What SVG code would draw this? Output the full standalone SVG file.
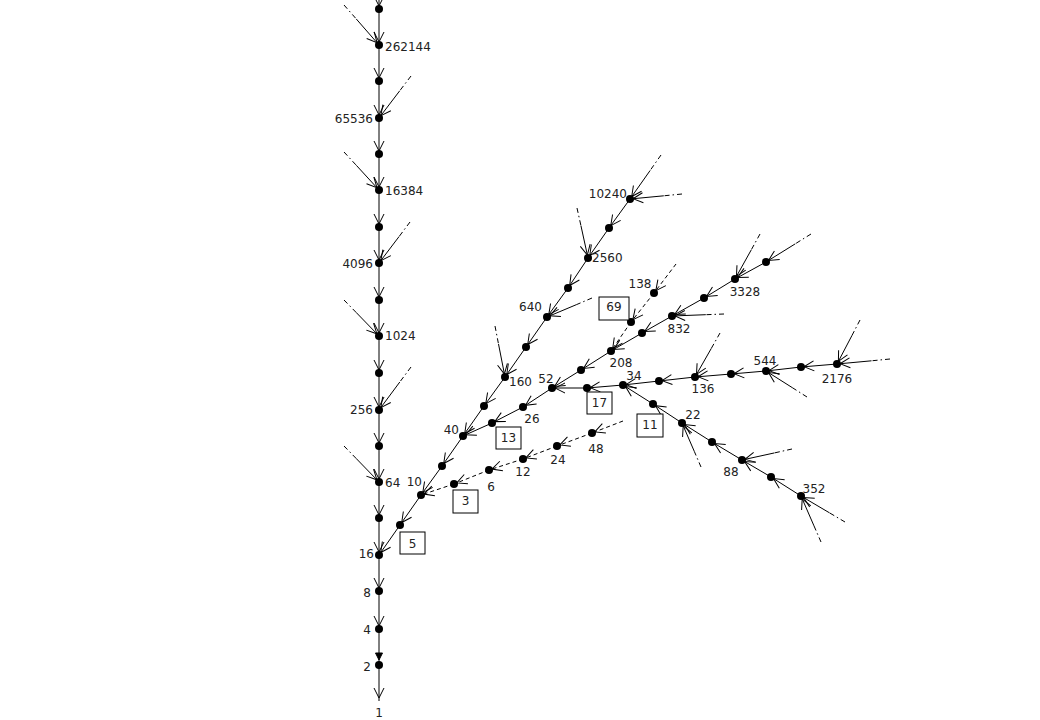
<svg xmlns="http://www.w3.org/2000/svg" width="1040" height="720" viewBox="0 0 1040 720">
<style>
.e{stroke:#000;stroke-width:1;fill:none;marker-end:url(#a)}
.d{stroke:#000;stroke-width:1;fill:none;stroke-dasharray:4 2.5}
.dd{stroke:#000;stroke-width:1;fill:none;stroke-dasharray:5 3 1.5 3}
.ds{stroke:#000;stroke-width:1;fill:none;stroke-dasharray:4 3;marker-end:url(#a)}
circle{fill:#000}
text{font-family:"DejaVu Sans","Liberation Sans",sans-serif;font-size:12px;fill:#222}
.m{text-anchor:middle}.r{text-anchor:end}
.box{fill:#fff;stroke:#000;stroke-width:1}
</style>
<defs>
<marker id="a" markerUnits="userSpaceOnUse" markerWidth="20" markerHeight="16" viewBox="-16 -8 20 16" refX="0" refY="0" orient="auto"><path d="M-13,-5 L-3,0 L-13,5" fill="none" stroke="#000" stroke-width="1"/></marker>
<marker id="f" markerUnits="userSpaceOnUse" markerWidth="20" markerHeight="16" viewBox="-16 -8 20 16" refX="0" refY="0" orient="auto"><path d="M-12,-3.5 L-5,0 L-12,3.5 Z" fill="#000" stroke="#000" stroke-width="1"/></marker>
</defs>
<rect width="1040" height="720" fill="#fff"/>
<g id="connectors">
<!-- spine -->
<line class="e" x1="379" y1="-20" x2="379" y2="9"/>
<line class="e" x1="379" y1="9" x2="379" y2="45"/>
<line class="e" x1="379" y1="45" x2="379" y2="81"/>
<line class="e" x1="379" y1="81" x2="379" y2="118"/>
<line class="e" x1="379" y1="118" x2="379" y2="154"/>
<line class="e" x1="379" y1="154" x2="379" y2="190"/>
<line class="e" x1="379" y1="190" x2="379" y2="227"/>
<line class="e" x1="379" y1="227" x2="379" y2="263"/>
<line class="e" x1="379" y1="263" x2="379" y2="300"/>
<line class="e" x1="379" y1="300" x2="379" y2="336"/>
<line class="e" x1="379" y1="336" x2="379" y2="373"/>
<line class="e" x1="379" y1="373" x2="379" y2="410"/>
<line class="e" x1="379" y1="410" x2="379" y2="446"/>
<line class="e" x1="379" y1="446" x2="379" y2="482"/>
<line class="e" x1="379" y1="482" x2="379" y2="518"/>
<line class="e" x1="379" y1="518" x2="379" y2="555"/>
<line class="e" x1="379" y1="555" x2="379" y2="591"/>
<line class="e" x1="379" y1="591" x2="379" y2="629"/>
<line style="stroke:#000;marker-end:url(#f)" x1="379" y1="629" x2="379" y2="665"/>
<line class="e" x1="379" y1="665" x2="379" y2="701"/>
<!-- spine side branches -->
<line class="dd" x1="344" y1="5" x2="356.3" y2="19"/><line class="e" x1="356.3" y1="19" x2="379" y2="45"/>
<line class="dd" x1="411" y1="76" x2="399.8" y2="90.7"/><line class="e" x1="399.8" y1="90.7" x2="379" y2="118"/>
<line class="dd" x1="344" y1="152" x2="356.3" y2="165.3"/><line class="e" x1="356.3" y1="165.3" x2="379" y2="190"/>
<line class="dd" x1="410" y1="222" x2="399.2" y2="236.4"/><line class="e" x1="399.2" y1="236.4" x2="379" y2="263"/>
<line class="dd" x1="344" y1="300" x2="356.3" y2="312.6"/><line class="e" x1="356.3" y1="312.6" x2="379" y2="336"/>
<line class="dd" x1="411" y1="367" x2="399.8" y2="382"/><line class="e" x1="399.8" y1="382" x2="379" y2="410"/>
<line class="dd" x1="344" y1="446" x2="356.3" y2="458.6"/><line class="e" x1="356.3" y1="458.6" x2="379" y2="482"/>
<!-- 5 branch -->
<line class="dd" x1="661" y1="155" x2="650.2" y2="170.4"/><line class="e" x1="650.2" y1="170.4" x2="630" y2="199"/>
<line class="e" x1="630" y1="199" x2="609" y2="228"/>
<line class="e" x1="609" y1="228" x2="588" y2="258"/>
<line class="e" x1="588" y1="258" x2="568" y2="288"/>
<line class="e" x1="568" y1="288" x2="547" y2="317"/>
<line class="e" x1="547" y1="317" x2="526" y2="347"/>
<line class="e" x1="526" y1="347" x2="505" y2="377"/>
<line class="e" x1="505" y1="377" x2="484" y2="406"/>
<line class="e" x1="484" y1="406" x2="463" y2="436"/>
<line class="e" x1="463" y1="436" x2="442" y2="466"/>
<line class="e" x1="442" y1="466" x2="421" y2="495"/>
<line class="e" x1="421" y1="495" x2="400" y2="525"/>
<line class="e" x1="400" y1="525" x2="379" y2="555"/>
<line class="dd" x1="682" y1="194" x2="663.8" y2="195.8"/><line class="e" x1="663.8" y1="195.8" x2="630" y2="199"/>
<line class="dd" x1="577" y1="208" x2="580.9" y2="225.5"/><line class="e" x1="580.9" y1="225.5" x2="588" y2="258"/>
<line class="dd" x1="592" y1="298" x2="576.3" y2="304.7"/><line class="e" x1="576.3" y1="304.7" x2="547" y2="317"/>
<line class="dd" x1="495" y1="326" x2="498.5" y2="344"/><line class="e" x1="498.5" y1="344" x2="505" y2="377"/>
<!-- 3 branch (dashed) -->
<line class="ds" x1="623" y1="421" x2="592" y2="433"/>
<line class="ds" x1="592" y1="433" x2="557" y2="446"/>
<line class="ds" x1="557" y1="446" x2="523" y2="459"/>
<line class="ds" x1="523" y1="459" x2="489" y2="470"/>
<line class="ds" x1="489" y1="470" x2="454" y2="484"/>
<line class="ds" x1="454" y1="484" x2="421" y2="495"/>
<!-- 13 branch -->
<line class="dd" x1="811" y1="234" x2="795.3" y2="243.8"/><line class="e" x1="795.3" y1="243.8" x2="766" y2="262"/>
<line class="e" x1="766" y1="262" x2="735" y2="279"/>
<line class="e" x1="735" y1="279" x2="704" y2="298"/>
<line class="e" x1="704" y1="298" x2="672" y2="316"/>
<line class="e" x1="672" y1="316" x2="642" y2="333"/>
<line class="e" x1="642" y1="333" x2="611" y2="351"/>
<line class="e" x1="611" y1="351" x2="581" y2="370"/>
<line class="e" x1="581" y1="370" x2="552" y2="388"/>
<line class="e" x1="552" y1="388" x2="523" y2="407"/>
<line class="e" x1="523" y1="407" x2="492" y2="423"/>
<line class="e" x1="492" y1="423" x2="463" y2="436"/>
<line class="dd" x1="760" y1="234" x2="751.3" y2="249.8"/><line class="e" x1="751.3" y1="249.8" x2="735" y2="279"/>
<line class="dd" x1="724" y1="314" x2="705.8" y2="314.7"/><line class="e" x1="705.8" y1="314.7" x2="672" y2="316"/>
<!-- 69 branch (dashed) -->
<line class="ds" x1="676" y1="264" x2="654" y2="293"/>
<line class="ds" x1="654" y1="293" x2="631" y2="322"/>
<line class="ds" x1="631" y1="322" x2="611" y2="351"/>
<!-- 17 branch -->
<line class="dd" x1="890" y1="359" x2="871.5" y2="360.8"/><line class="e" x1="871.5" y1="360.8" x2="837" y2="364"/>
<line class="e" x1="837" y1="364" x2="801" y2="367"/>
<line class="e" x1="801" y1="367" x2="766" y2="371"/>
<line class="e" x1="766" y1="371" x2="731" y2="374"/>
<line class="e" x1="731" y1="374" x2="695" y2="377"/>
<line class="e" x1="695" y1="377" x2="659" y2="381"/>
<line class="e" x1="659" y1="381" x2="623" y2="385"/>
<line class="e" x1="623" y1="385" x2="587" y2="388"/>
<line class="e" x1="587" y1="388" x2="552" y2="388"/>
<line class="dd" x1="860" y1="320" x2="852" y2="335.4"/><line class="e" x1="852" y1="335.4" x2="837" y2="364"/>
<line class="dd" x1="807" y1="397" x2="792.7" y2="387.9"/><line class="e" x1="792.7" y1="387.9" x2="766" y2="371"/>
<line class="dd" x1="720" y1="333" x2="711.3" y2="348.4"/><line class="e" x1="711.3" y1="348.4" x2="695" y2="377"/>
<!-- 11 branch -->
<line class="dd" x1="845" y1="522" x2="829.6" y2="512.9"/><line class="e" x1="829.6" y1="512.9" x2="801" y2="496"/>
<line class="e" x1="801" y1="496" x2="771" y2="477"/>
<line class="e" x1="771" y1="477" x2="742" y2="460"/>
<line class="e" x1="742" y1="460" x2="712" y2="442"/>
<line class="e" x1="712" y1="442" x2="682" y2="423"/>
<line class="e" x1="682" y1="423" x2="653" y2="404"/>
<line class="e" x1="653" y1="404" x2="623" y2="385"/>
<line class="dd" x1="821" y1="542" x2="814" y2="525.9"/><line class="e" x1="814" y1="525.9" x2="801" y2="496"/>
<line class="dd" x1="792" y1="449" x2="774.5" y2="452.9"/><line class="e" x1="774.5" y1="452.9" x2="742" y2="460"/>
<line class="dd" x1="701" y1="467" x2="694.4" y2="451.6"/><line class="e" x1="694.4" y1="451.6" x2="682" y2="423"/>
</g>
<g id="nodes">
<g id="n524288"><circle cx="379" cy="9" r="4"/></g>
<g id="n262144"><circle cx="379" cy="45" r="4"/><text x="385" y="50.5">262144</text></g>
<g id="n131072"><circle cx="379" cy="81" r="4"/></g>
<g id="n65536"><circle cx="379" cy="118" r="4"/><text class="r" x="373" y="122.5">65536</text></g>
<g id="n32768"><circle cx="379" cy="154" r="4"/></g>
<g id="n16384"><circle cx="379" cy="190" r="4"/><text x="385" y="194.5">16384</text></g>
<g id="n8192"><circle cx="379" cy="227" r="4"/></g>
<g id="n4096"><circle cx="379" cy="263" r="4"/><text class="r" x="373" y="267.5">4096</text></g>
<g id="n2048"><circle cx="379" cy="300" r="4"/></g>
<g id="n1024"><circle cx="379" cy="336" r="4"/><text x="385" y="339.5">1024</text></g>
<g id="n512"><circle cx="379" cy="373" r="4"/></g>
<g id="n256"><circle cx="379" cy="410" r="4"/><text class="r" x="373" y="413.5">256</text></g>
<g id="n128"><circle cx="379" cy="446" r="4"/></g>
<g id="n64"><circle cx="379" cy="482" r="4"/><text x="385" y="486.5">64</text></g>
<g id="n32"><circle cx="379" cy="518" r="4"/></g>
<g id="n16"><circle cx="379" cy="555" r="4"/><text class="r" x="374" y="557.5">16</text></g>
<g id="n8"><circle cx="379" cy="591" r="4"/><text class="r" x="371" y="596.5">8</text></g>
<g id="n4"><circle cx="379" cy="629" r="4"/><text class="r" x="371" y="633.5">4</text></g>
<g id="n2"><circle cx="379" cy="665" r="4"/><text class="r" x="371" y="670.5">2</text></g>
<g id="n1"><text class="m" x="379" y="716.5">1</text></g>
<g id="n5"><circle cx="400" cy="525" r="4"/><rect class="box" x="400" y="532" width="25" height="22"/><text class="m" x="412.5" y="547.5">5</text></g>
<g id="n10"><circle cx="421" cy="495" r="4"/><text class="r" x="422" y="485.5">10</text></g>
<g id="n20"><circle cx="442" cy="466" r="4"/></g>
<g id="n40"><circle cx="463" cy="436" r="4"/><text class="r" x="459" y="433.5">40</text></g>
<g id="n80"><circle cx="484" cy="406" r="4"/></g>
<g id="n160"><circle cx="505" cy="377" r="4"/><text x="509" y="385.5">160</text></g>
<g id="n320"><circle cx="526" cy="347" r="4"/></g>
<g id="n640"><circle cx="547" cy="317" r="4"/><text class="r" x="542" y="310.5">640</text></g>
<g id="n1280"><circle cx="568" cy="288" r="4"/></g>
<g id="n2560"><circle cx="588" cy="258" r="4"/><text x="592" y="262">2560</text></g>
<g id="n5120"><circle cx="609" cy="228" r="4"/></g>
<g id="n10240"><circle cx="630" cy="199" r="4"/><text class="r" x="627" y="197.5">10240</text></g>
<g id="n3"><circle cx="454" cy="484" r="4"/><rect class="box" x="453" y="490" width="25" height="23"/><text class="m" x="465.5" y="505">3</text></g>
<g id="n6"><circle cx="489" cy="470" r="4"/><text class="m" x="491" y="490.5">6</text></g>
<g id="n12"><circle cx="523" cy="459" r="4"/><text class="m" x="523" y="475.5">12</text></g>
<g id="n24"><circle cx="557" cy="446" r="4"/><text class="m" x="558" y="463.5">24</text></g>
<g id="n48"><circle cx="592" cy="433" r="4"/><text class="m" x="596" y="452.5">48</text></g>
<g id="n13"><circle cx="492" cy="423" r="4"/><rect class="box" x="496" y="427" width="25" height="22"/><text class="m" x="508.5" y="442">13</text></g>
<g id="n26"><circle cx="523" cy="407" r="4"/><text class="m" x="532" y="422.5">26</text></g>
<g id="n52"><circle cx="552" cy="388" r="4"/><text class="m" x="546" y="382.5">52</text></g>
<g id="n104"><circle cx="581" cy="370" r="4"/></g>
<g id="n208"><circle cx="611" cy="351" r="4"/><text class="m" x="621" y="366.5">208</text></g>
<g id="n416"><circle cx="642" cy="333" r="4"/></g>
<g id="n832"><circle cx="672" cy="316" r="4"/><text class="m" x="679" y="332.5">832</text></g>
<g id="n1664"><circle cx="704" cy="298" r="4"/></g>
<g id="n3328"><circle cx="735" cy="279" r="4"/><text class="m" x="745" y="295.5">3328</text></g>
<g id="n6656"><circle cx="766" cy="262" r="4"/></g>
<g id="n69"><circle cx="631" cy="322" r="4"/><rect class="box" x="599" y="297" width="30" height="23"/><text class="m" x="614" y="310.5">69</text></g>
<g id="n138"><circle cx="654" cy="293" r="4"/><text class="m" x="640" y="287.5">138</text></g>
<g id="n17"><circle cx="587" cy="388" r="4"/><rect class="box" x="587" y="392" width="25" height="22"/><text class="m" x="599.5" y="407">17</text></g>
<g id="n34"><circle cx="623" cy="385" r="4"/><text class="m" x="634" y="379.5">34</text></g>
<g id="n68"><circle cx="659" cy="381" r="4"/></g>
<g id="n136"><circle cx="695" cy="377" r="4"/><text class="m" x="703" y="392.5">136</text></g>
<g id="n272"><circle cx="731" cy="374" r="4"/></g>
<g id="n544"><circle cx="766" cy="371" r="4"/><text class="m" x="765" y="364.5">544</text></g>
<g id="n1088"><circle cx="801" cy="367" r="4"/></g>
<g id="n2176"><circle cx="837" cy="364" r="4"/><text class="m" x="837" y="382.5">2176</text></g>
<g id="n11"><circle cx="653" cy="404" r="4"/><rect class="box" x="637" y="414" width="26" height="23"/><text class="m" x="650" y="429">11</text></g>
<g id="n22"><circle cx="682" cy="423" r="4"/><text class="m" x="693" y="418.5">22</text></g>
<g id="n44"><circle cx="712" cy="442" r="4"/></g>
<g id="n88"><circle cx="742" cy="460" r="4"/><text class="m" x="731" y="475.5">88</text></g>
<g id="n176"><circle cx="771" cy="477" r="4"/></g>
<g id="n352"><circle cx="801" cy="496" r="4"/><text class="m" x="814" y="492.5">352</text></g>
</g>
</svg>
